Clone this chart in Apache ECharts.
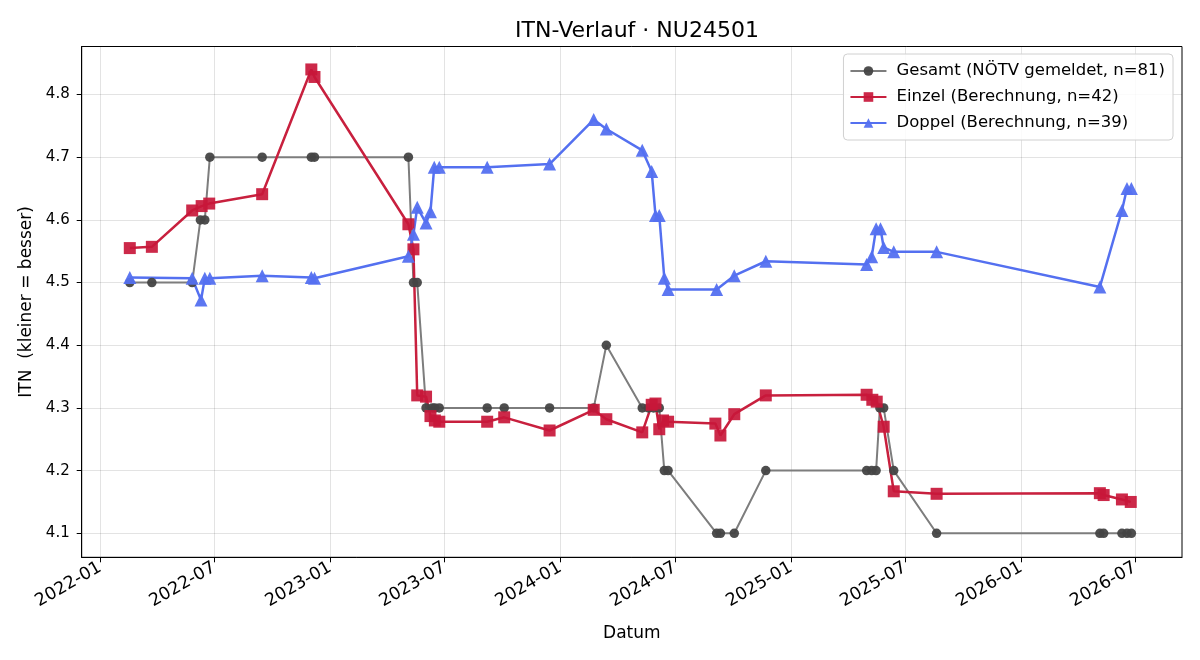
<!DOCTYPE html>
<html>
<head>
<meta charset="utf-8">
<script src="https://cdn.jsdelivr.net/npm/echarts@6/dist/echarts.min.js"></script>
<style>
  html, body { margin: 0; padding: 0; background: #fff; }
  #chart { width: 1200px; height: 660px; }
</style>
</head>
<body>
<div id="chart"></div>
<script>
// Gesamt (NÖTV gemeldet)
const gesamtDates = [
  '2022-02-17', '2022-03-24', '2022-05-27', '2022-06-09', '2022-06-16', '2022-06-24',
  '2022-09-15', '2022-12-02', '2022-12-07', '2023-05-05', '2023-05-13', '2023-05-19',
  '2023-06-02', '2023-06-12', '2023-06-16', '2023-06-23', '2023-09-07', '2023-10-04',
  '2023-12-15', '2024-02-23', '2024-03-14', '2024-05-10', '2024-05-20', '2024-05-28',
  '2024-06-06', '2024-06-14', '2024-06-20', '2024-09-05', '2024-09-11', '2024-10-03',
  '2024-11-22', '2025-05-01', '2025-05-09', '2025-05-16', '2025-05-22', '2025-05-28',
  '2025-06-13', '2025-08-20', '2026-05-06', '2026-05-12', '2026-06-10', '2026-06-18',
  '2026-06-25'
]
const gesamtValues = [
  4.5, 4.5, 4.5, 4.6, 4.6, 4.7,
  4.7, 4.7, 4.7, 4.7, 4.5, 4.5,
  4.3, 4.3, 4.3, 4.3, 4.3, 4.3,
  4.3, 4.3, 4.4, 4.3, 4.3, 4.3,
  4.3, 4.2, 4.2, 4.1, 4.1, 4.1,
  4.2, 4.2, 4.2, 4.2, 4.3, 4.3,
  4.2, 4.1, 4.1, 4.1, 4.1, 4.1,
  4.1
]

// Einzel (Berechnung)
const einzelDates = [
  '2022-02-17', '2022-03-24', '2022-05-27', '2022-06-11', '2022-06-23', '2022-09-15',
  '2022-12-02', '2022-12-07', '2023-05-05', '2023-05-13', '2023-05-19', '2023-06-02',
  '2023-06-09', '2023-06-16', '2023-06-23', '2023-09-07', '2023-10-04', '2023-12-15',
  '2024-02-23', '2024-03-14', '2024-05-10', '2024-05-25', '2024-05-31', '2024-06-06',
  '2024-06-12', '2024-06-20', '2024-09-03', '2024-09-11', '2024-10-03', '2024-11-22',
  '2025-05-01', '2025-05-10', '2025-05-17', '2025-05-28', '2025-06-13', '2025-08-20',
  '2026-05-06', '2026-05-12', '2026-06-10', '2026-06-24'
]
const einzelValues = [
  4.555, 4.557, 4.615, 4.622, 4.626, 4.641,
  4.840, 4.828, 4.593, 4.553, 4.320, 4.318,
  4.287, 4.280, 4.278, 4.278, 4.285, 4.264,
  4.297, 4.282, 4.261, 4.305, 4.307, 4.266,
  4.280, 4.278, 4.275, 4.256, 4.290, 4.320,
  4.321, 4.313, 4.310, 4.270, 4.167, 4.163,
  4.164, 4.161, 4.154, 4.150
]

// Doppel (Berechnung)
const doppelDates = [
  '2022-02-17', '2022-05-27', '2022-06-10', '2022-06-16', '2022-06-24', '2022-09-15',
  '2022-12-02', '2022-12-07', '2023-05-05', '2023-05-13', '2023-05-19', '2023-06-02',
  '2023-06-09', '2023-06-15', '2023-06-23', '2023-09-07', '2023-12-15', '2024-02-23',
  '2024-03-14', '2024-05-10', '2024-05-25', '2024-05-31', '2024-06-06', '2024-06-14',
  '2024-06-20', '2024-09-05', '2024-10-03', '2024-11-22', '2025-05-01', '2025-05-09',
  '2025-05-16', '2025-05-23', '2025-05-28', '2025-06-13', '2025-08-20', '2026-05-06',
  '2026-06-10', '2026-06-18', '2026-06-25'
]
const doppelValues = [
  4.508, 4.507, 4.472, 4.507, 4.507, 4.511,
  4.508, 4.507, 4.542, 4.577, 4.620, 4.595,
  4.613, 4.684, 4.684, 4.684, 4.689, 4.760,
  4.745, 4.711, 4.677, 4.607, 4.607, 4.507,
  4.489, 4.489, 4.511, 4.534, 4.529, 4.541,
  4.586, 4.586, 4.556, 4.549, 4.549, 4.493,
  4.615, 4.650, 4.650
]

const xTickMonths = ['2022-01', '2022-07', '2023-01', '2023-07', '2024-01', '2024-07',
  '2025-01', '2025-07', '2026-01', '2026-07']
const yTicks = [4.1, 4.2, 4.3, 4.4, 4.5, 4.6, 4.7, 4.8]

const DAY = 86400000
const ts = (s) => {
  const p = s.split('-').map(Number)
  return Date.UTC(p[0], p[1] - 1, p[2] || 1)
}
const pairs = (dates, values) => dates.map((d, i) => [ts(d), values[i]])

const xTicks = xTickMonths.map(m => ts(m))
const xMin = ts('2022-01-01') - 29.3 * DAY
const xMax = ts('2022-01-01') + 1716.3 * DAY

const font = 'DejaVu Sans'
const chart = echarts.init(document.getElementById('chart'))

const option = {
  animation: false,
  backgroundColor: '#fff',
  textStyle: { fontFamily: font },
  title: {
    text: 'ITN-Verlauf · NU24501',
    left: 632,
    textAlign: 'center',
    top: 15,
    textStyle: { fontFamily: font, fontSize: 22, fontWeight: 'normal', color: '#000' }
  },
  legend: {
    orient: 'vertical',
    right: 27,
    top: 54,
    padding: [7, 8, 7, 6],
    itemWidth: 36,
    itemHeight: 12,
    itemGap: 6,
    borderColor: '#d0d0d0',
    borderWidth: 1,
    borderRadius: 4,
    backgroundColor: 'rgba(255,255,255,0.85)',
    textStyle: { fontFamily: font, fontSize: 16.5, color: '#000', lineHeight: 20, padding: [0, 0, 0, 5] },
    data: ['Gesamt (NÖTV gemeldet, n=81)', 'Einzel (Berechnung, n=42)', 'Doppel (Berechnung, n=39)']
  },
  grid: {
    left: 81.7,
    right: 18,
    top: 46.5,
    bottom: 102.7,
    show: true,
    borderColor: '#000',
    borderWidth: 1
  },
  xAxis: {
    type: 'value',
    min: xMin,
    max: xMax,
    name: 'Datum',
    nameLocation: 'middle',
    nameGap: 68,
    nameTextStyle: { fontFamily: font, fontSize: 17, color: '#000' },
    axisLine: { show: true, lineStyle: { color: '#000', width: 1 } },
    axisTick: { show: true, length: 5, lineStyle: { color: '#000' }, customValues: xTicks },
    axisLabel: {
      customValues: xTicks,
      rotate: 30,
      margin: 9,
      fontFamily: font,
      fontSize: 17.5,
      color: '#000',
      formatter: (v) => {
        const d = new Date(v)
        return d.getUTCFullYear() + '-' + String(d.getUTCMonth() + 1).padStart(2, '0')
      }
    },
    splitLine: { show: true, lineStyle: { color: 'rgba(0,0,0,0.11)', width: 1 } }
  },
  yAxis: {
    type: 'value',
    min: 4.0617,
    max: 4.8766,
    name: 'ITN  (kleiner = besser)',
    nameLocation: 'middle',
    nameGap: 47,
    nameTextStyle: { fontFamily: font, fontSize: 17, color: '#000' },
    axisLine: { show: true, lineStyle: { color: '#000', width: 1 } },
    axisTick: { show: true, length: 5, lineStyle: { color: '#000' }, customValues: yTicks },
    axisLabel: {
      customValues: yTicks,
      margin: 12,
      fontFamily: font,
      fontSize: 15,
      color: '#000',
      formatter: (v) => v.toFixed(1)
    },
    splitLine: { show: true, lineStyle: { color: 'rgba(0,0,0,0.11)', width: 1 } }
  },
  series: [
    {
      name: 'Gesamt (NÖTV gemeldet, n=81)',
      type: 'line',
      data: pairs(gesamtDates, gesamtValues),
      symbol: 'circle',
      symbolSize: 9.5,
      showAllSymbol: true,
      lineStyle: { color: '#7d7d7d', width: 2 },
      itemStyle: { color: '#444', opacity: 0.95 }
    },
    {
      name: 'Einzel (Berechnung, n=42)',
      type: 'line',
      data: pairs(einzelDates, einzelValues),
      symbol: 'rect',
      symbolSize: 12,
      showAllSymbol: true,
      lineStyle: { color: '#c8203e', width: 2.5 },
      itemStyle: { color: '#c8173a', opacity: 0.92 }
    },
    {
      name: 'Doppel (Berechnung, n=39)',
      type: 'line',
      data: pairs(doppelDates, doppelValues),
      symbol: 'triangle',
      symbolSize: 13,
      showAllSymbol: true,
      lineStyle: { color: '#5470f0', width: 2.5 },
      itemStyle: { color: '#5470f0', opacity: 0.95 }
    }
  ]
}

chart.setOption(option)
</script>
</body>
</html>
